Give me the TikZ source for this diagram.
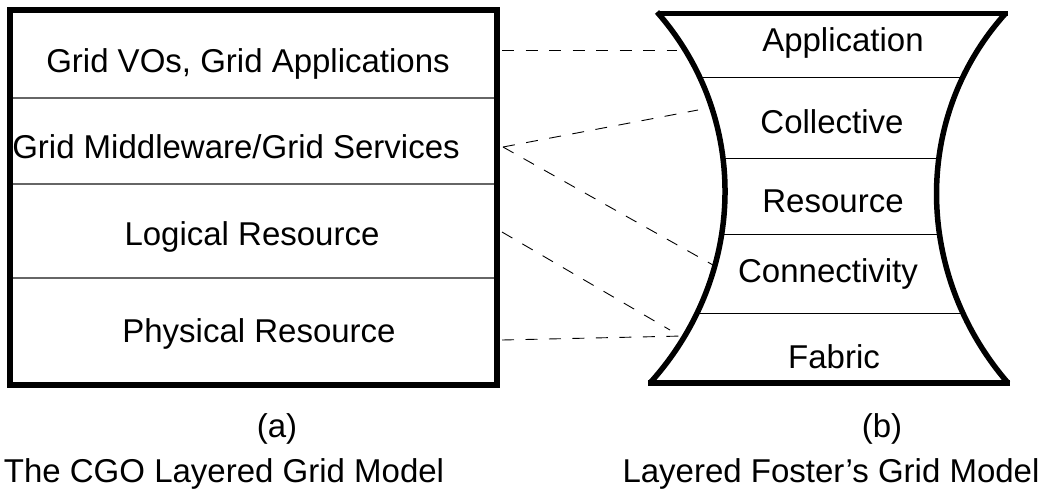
\documentclass[tikz,border=0pt]{standalone}
\usepackage{fontspec}
\setmainfont{Liberation Sans}
\begin{document}
\begin{tikzpicture}[x=1pt,y=-1pt,
  lbl/.style={anchor=base,inner sep=0pt,font=\fontsize{33}{40}\selectfont},
  frame/.style={line width=6.5pt},
  sep/.style={line width=1.2pt,black!60},
  sepb/.style={line width=1pt,black},
  conn/.style={line width=0.9pt,dash pattern=on 12pt off 11.5pt},
  hour/.style={line width=5.5pt}]
\useasboundingbox (0,0) rectangle (1043,488);
% ---------- (a) left box ----------
\draw[sep] (10,98) -- (497,98);
\draw[sep] (10,184) -- (497,184);
\draw[sep] (10,278) -- (497,278);
\draw[frame] (10,10) rectangle (497,385);
\node[lbl] (a1) at (248,72) {Grid VOs, Grid Applications};
\node[lbl] (a2) at (236,158) {Grid Middleware/Grid Services};
\node[lbl] (a3) at (252,245) {Logical Resource};
\node[lbl] (a4) at (259,342) {Physical Resource};
% ---------- (b) right shape ----------
\begin{scope}
\clip (657,13) -- (1005,13) .. controls (910.5,119.5) and (916,276.7) .. (1008,383)
  -- (650,383) .. controls (746,276.7) and (751.5,119.5) .. (657,13) -- cycle;
\draw[sepb] (600,77) -- (1043,77);
\draw[sepb] (600,158) -- (1043,158);
\draw[sepb] (600,234) -- (1043,234);
\draw[sepb] (600,313) -- (1043,313);
\end{scope}
\draw[hour] (657,12) .. controls (751.5,119.5) and (746,276.7) .. (650,383);
\draw[hour] (1005,14) .. controls (910.5,119.5) and (916,276.7) .. (1008,383);
\draw[hour] (660,13.5) -- (1008,13.5);
\draw[hour] (648,383) -- (1010,383);
\node[lbl] (b1) at (843,51) {Application};
\node[lbl] (b2) at (832,133) {Collective};
\node[lbl] (b3) at (833,212) {Resource};
\node[lbl] (b4) at (828,282) {Connectivity};
\node[lbl] (b5) at (834,368) {Fabric};
% ---------- connectors ----------
\coordinate (p1) at (502,50);
\coordinate (q1) at (677,50);
\coordinate (p2) at (503,147);
\coordinate (q2) at (698,110);
\coordinate (q3) at (713,265);
\coordinate (p4) at (502,232);
\coordinate (q4) at (670,330);
\coordinate (p5) at (502,340);
\coordinate (q5) at (683,336);
\draw[conn] (p1) -- (q1);
\draw[conn] (p2) -- (q2);
\draw[conn] (p2) -- (q3);
\draw[conn] (p4) -- (q4);
\draw[conn] (p5) -- (q5);
% ---------- captions ----------
\node[lbl] (ca) at (277,437) {(a)};
\node[lbl] (cb) at (882,437) {(b)};
\node[lbl] (ta) at (224,482) {The CGO Layered Grid Model};
\node[lbl] (tb) at (831,482) {Layered Foster’s Grid Model};
\end{tikzpicture}
\end{document}
